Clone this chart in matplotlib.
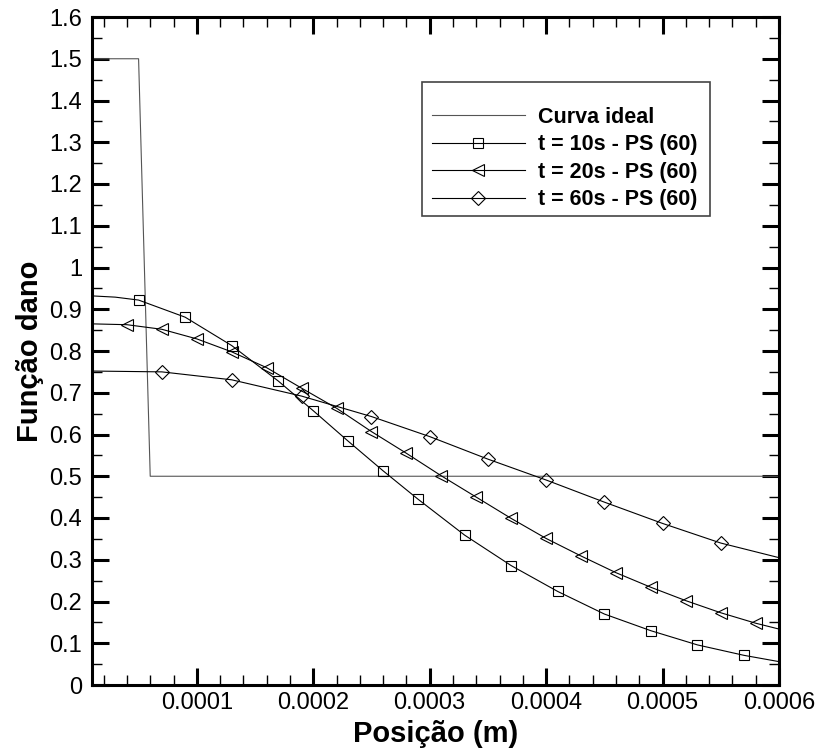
import numpy as np
import matplotlib
matplotlib.use("Agg")
import matplotlib.pyplot as plt
from matplotlib.patches import Rectangle
from matplotlib.ticker import MultipleLocator, FormatStrFormatter

plt.rcParams['font.family'] = ['Liberation Sans', 'DejaVu Sans']

# ---------------- data ----------------
x_ideal = [0.0, 5e-5, 6e-5, 6e-4]
y_ideal = [1.5, 1.5, 0.5, 0.5]

# t = 10s
x10 = [1e-5, 3e-5, 5e-5, 9e-5, 13e-5, 17e-5, 20e-5, 23e-5, 26e-5, 29e-5, 33e-5,
       37e-5, 41e-5, 45e-5, 49e-5, 53e-5, 57e-5, 60e-5]
y10 = [0.932, 0.929, 0.922, 0.881, 0.813, 0.728, 0.657, 0.584, 0.513, 0.445, 0.359,
       0.286, 0.224, 0.170, 0.130, 0.096, 0.071, 0.056]

# t = 20s
x20 = [1e-5, 4e-5, 7e-5, 10e-5, 13e-5, 16e-5, 19e-5, 22e-5, 25e-5, 28e-5, 31e-5,
       34e-5, 37e-5, 40e-5, 43e-5, 46e-5, 49e-5, 52e-5, 55e-5, 58e-5, 60e-5]
y20 = [0.865, 0.863, 0.852, 0.829, 0.798, 0.760, 0.711, 0.663, 0.607, 0.555, 0.501,
       0.450, 0.399, 0.351, 0.309, 0.269, 0.234, 0.202, 0.173, 0.148, 0.134]

# t = 60s
x60 = [1e-5, 4e-5, 7e-5, 13e-5, 19e-5, 25e-5, 30e-5, 35e-5, 40e-5, 45e-5, 50e-5,
       55e-5, 60e-5]
y60 = [0.752, 0.751, 0.750, 0.731, 0.692, 0.643, 0.595, 0.541, 0.491, 0.438, 0.387,
       0.340, 0.305]

labels = ['Curva ideal', 't = 10s - PS (60)', 't = 20s - PS (60)', 't = 60s - PS (60)']

# ---------------- plot ----------------
fig = plt.figure(figsize=(8.24, 7.52), dpi=100)
ax = fig.add_axes([92/824, 1-685/752, (779-92)/824, (685-17)/752])

lw = 0.8
ax.plot(x_ideal, y_ideal, color='#555555', lw=lw, label=labels[0])
ax.plot(x10, y10, color='k', lw=lw, marker='s', ms=7.5, mfc='none', mew=0.8,
        markevery=list(range(2, len(x10)-1)), label=labels[1])
ax.plot(x20, y20, color='k', lw=lw, marker='<', ms=9, mfc='none', mew=0.8,
        markevery=list(range(1, len(x20)-1)), label=labels[2])
ax.plot(x60, y60, color='k', lw=lw, marker='D', ms=7, mfc='none', mew=0.8,
        markevery=list(range(2, len(x60)-1)), label=labels[3])

ax.set_xlim(1e-5, 6e-4)
ax.set_ylim(0, 1.6)
ax.xaxis.set_major_locator(MultipleLocator(1e-4))
ax.xaxis.set_minor_locator(MultipleLocator(2e-5))
ax.yaxis.set_major_locator(MultipleLocator(0.1))
ax.yaxis.set_minor_locator(MultipleLocator(0.05))
ax.xaxis.set_major_formatter(FormatStrFormatter('%g'))
ax.yaxis.set_major_formatter(FormatStrFormatter('%g'))

for s in ax.spines.values():
    s.set_linewidth(2.2)
ax.tick_params(which='both', direction='in', top=True, right=True)
ax.tick_params(which='major', length=12, width=2.2, labelsize=17, pad=7)
ax.tick_params(which='minor', length=7, width=1)
ax.tick_params(axis='x', which='major', pad=5)

ax.set_xlabel('Posição (m)', fontsize=21, fontweight='bold', labelpad=4)
ax.set_ylabel('Função dano', fontsize=21, fontweight='bold', labelpad=4)

leg = ax.legend(loc='upper left', bbox_to_anchor=(432/824, 1-107/752),
                bbox_transform=fig.transFigure, frameon=False,
                prop={'weight': 'bold', 'size': 15.5}, handlelength=4.3,
                handletextpad=0.62, labelspacing=0.3, numpoints=1, borderpad=0,
                borderaxespad=0)

fig.patches.append(Rectangle((422/824, 1-216/752), (710-422)/824, (216-82)/752,
                             transform=fig.transFigure, fill=False, lw=1.2,
                             ec='#444444'))

fig.savefig('out.png', dpi=100)
